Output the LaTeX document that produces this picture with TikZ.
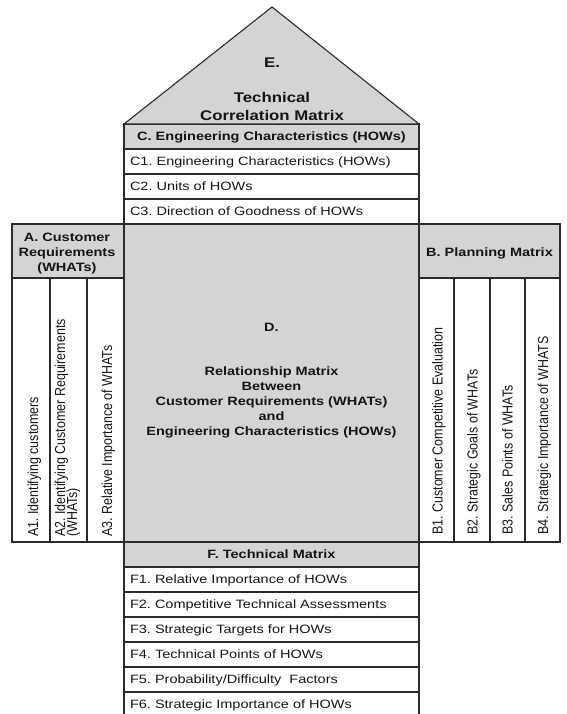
\documentclass[tikz,border=0pt]{standalone}
\usepackage{fontspec}
\newfontfamily\hf{Liberation Sans}[FakeStretch=1.2]
\newfontfamily\vf{Liberation Sans}[FakeStretch=0.86]
\definecolor{qgray}{HTML}{D4D4D4}
\definecolor{qline}{HTML}{2B2B2B}
\definecolor{qtext}{HTML}{151515}
\frenchspacing
\begin{document}
\frenchspacing
\begin{tikzpicture}[x=1pt,y=-1pt,
  cell/.style={draw=qline, line width=1.1pt, inner sep=0pt, outer sep=0pt, text=qtext},
  gcell/.style={cell, fill=qgray},
  rowtxt/.style={font=\hf\fontsize{12.1}{15}\selectfont, align=left, text width=283pt,
    text height=8.7pt, text depth=0pt},
  headtxt/.style={font=\hf\bfseries\fontsize{12.1}{15}\selectfont, align=center,
    text height=8.7pt, text depth=0pt},
  vlab/.style={rotate=90, anchor=west, inner sep=0pt, text=qtext,
    text height=10.4pt, text depth=0pt,
    font=\vf\fontsize{14.5}{12}\selectfont},
  bigtxt/.style={inner sep=0pt, text=qtext, align=center,
    font=\hf\bfseries\fontsize{14}{18}\selectfont},
  dtxt/.style={inner sep=0pt, text=qtext, align=center,
    font=\hf\bfseries\fontsize{12.1}{15}\selectfont}
]
\useasboundingbox (0,0) rectangle (566,714);

% roof
\coordinate (apex) at (272,7);
\node[gcell, headtxt, minimum width=295, minimum height=25] (chead) at (271.5,136.5) {C. Engineering Characteristics (HOWs)};
\filldraw[fill=qgray, draw=qline, line width=1.1pt, line join=miter]
  (chead.north west) -- (apex) -- (chead.north east) -- cycle;
\node[bigtxt] (etop) at (272,63) {E.};
\node[bigtxt] (etitle) at (272,106) {Technical\\Correlation Matrix};

% C rows
\node[cell, rowtxt, minimum width=295, minimum height=25] (c1) at (271.5,161.5) {C1. Engineering Characteristics (HOWs)};
\node[cell, rowtxt, minimum width=295, minimum height=25] (c2) at (271.5,186.5) {C2. Units of HOWs};
\node[cell, rowtxt, minimum width=295, minimum height=25] (c3) at (271.5,211.5) {C3. Direction of Goodness of HOWs};

% D
\node[gcell, minimum width=295, minimum height=318] (dbox) at (271.5,383) {};
\node[dtxt] (dtop) at (271.5,327) {D.};
\node[dtxt] (dtitle) at (271.5,402) {Relationship Matrix\\Between\\Customer Requirements (WHATs)\\and\\Engineering Characteristics (HOWs)};

% A
\node[gcell, minimum width=112, minimum height=54] (ahead) at (68,251) {};
\node[dtxt] (atitle) at (67,254) {A. Customer\\Requirements\\(WHATs)};
\node[cell, minimum width=38, minimum height=264] (a1box) at (31,410) {};
\node[cell, minimum width=37, minimum height=264] (a2box) at (68.5,410) {};
\node[cell, minimum width=37, minimum height=264] (a3box) at (105.5,410) {};
\node[vlab] (a1) at (33,537) {A1. Identifying customers};
\node[vlab] (a2) at (60,537) {A2. Identifying Customer Requirements};
\node[vlab] (a2b) at (72,537) {(WHATs)};
\node[vlab] (a3) at (107,537) {A3. Relative Importance of WHATs};

% B
\node[gcell, minimum width=141, minimum height=54] (bhead) at (489.5,251) {};
\node[dtxt] (btitle) at (489.5,253) {B. Planning Matrix};
\node[cell, minimum width=35, minimum height=264] (b1box) at (436.5,410) {};
\node[cell, minimum width=36, minimum height=264] (b2box) at (472,410) {};
\node[cell, minimum width=35, minimum height=264] (b3box) at (507.5,410) {};
\node[cell, minimum width=35, minimum height=264] (b4box) at (542.5,410) {};
\node[vlab] (b1) at (437.5,535) {B1. Customer Competitive Evaluation};
\node[vlab] (b2) at (472.5,535) {B2. Strategic Goals of WHATs};
\node[vlab] (b3) at (507.5,535) {B3. Sales Points of WHATs};
\node[vlab] (b4) at (543,535) {B4. Strategic Importance of WHATS};

% F
\node[gcell, headtxt, minimum width=295, minimum height=25] (fhead) at (271.5,554.5) {F. Technical Matrix};
\node[cell, rowtxt, minimum width=295, minimum height=25] (f1) at (271.5,579.5) {F1. Relative Importance of HOWs};
\node[cell, rowtxt, minimum width=295, minimum height=25] (f2) at (271.5,604.5) {F2. Competitive Technical Assessments};
\node[cell, rowtxt, minimum width=295, minimum height=25] (f3) at (271.5,629.5) {F3. Strategic Targets for HOWs};
\node[cell, rowtxt, minimum width=295, minimum height=25] (f4) at (271.5,654.5) {F4. Technical Points of HOWs};
\node[cell, rowtxt, minimum width=295, minimum height=25] (f5) at (271.5,679.5) {F5. Probability/Difficulty\ \ Factors};
\node[cell, rowtxt, minimum width=295, minimum height=25] (f6) at (271.5,704.5) {F6. Strategic Importance of HOWs};
\end{tikzpicture}
\end{document}
